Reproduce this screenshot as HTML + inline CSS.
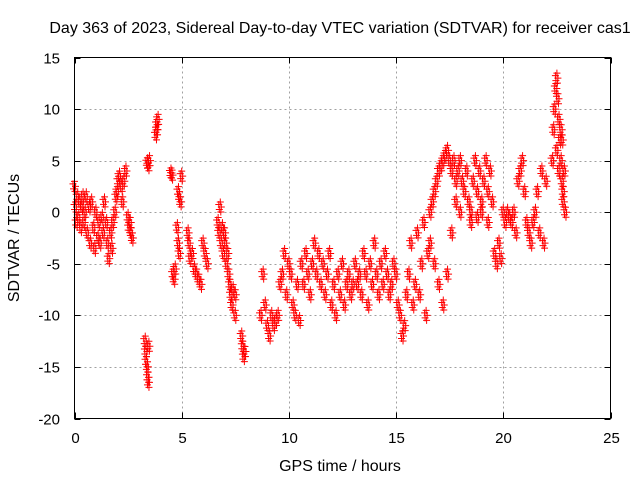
<!DOCTYPE html>
<html><head><meta charset="utf-8"><style>
body{margin:0;background:#fff}
svg{display:block;font-family:"Liberation Sans",sans-serif}
</style></head><body>
<svg id="chart" width="640" height="480" viewBox="0 0 640 480">
<text x="340" y="33" font-size="16" text-anchor="middle">Day 363 of 2023, Sidereal Day-to-day VTEC variation (SDTVAR) for receiver cas1</text>
<g id="grid"></g>
<g id="ticks"></g>
<g id="marks"></g>
<rect x="74.5" y="57.5" width="536" height="361" fill="none" stroke="#000" stroke-width="1"/>
<text x="340" y="471" font-size="16" text-anchor="middle">GPS time / hours</text>
<text transform="translate(19,238) rotate(-90)" font-size="16" text-anchor="middle">SDTVAR / TECUs</text>
</svg>
<script>
const xTicks=[0,5,10,15,20,25];
const yTicks=[-20,-15,-10,-5,0,5,10,15];
const gpsHours=[0,0.05,0.1,0.15,0.2,0.25,0.3,0.35,0.4,0.45,0.5,
0.55,0.6,0.7,0.75,0.8,0.9,0.95,1.0,1.1,1.15,1.2,1.3,1.35,1.4,1.5,
1.55,1.6,1.7,1.75,1.8,1.9,1.95,2.0,2.05,2.1,2.2,2.25,2.3,2.4,
2.5,2.55,2.6,2.65,2.7,
3.3,3.33,3.36,3.4,3.43,3.45,3.47,
3.4,3.45,3.5,
3.8,3.85,3.9,3.85,
4.5,4.55,4.6,4.65,4.7,
4.85,4.9,4.95,5.0,4.8,4.85,4.9,
5.3,5.35,5.4,5.5,5.6,5.7,5.8,5.9,
6.0,6.1,6.2,
6.7,6.75,6.8,6.85,6.9,6.95,7.0,
7.05,7.1,7.15,7.2,7.25,7.3,7.35,7.4,7.5,7.5,
7.8,7.85,7.9,7.95,
8.7,8.8,8.9,9.0,9.1,9.2,9.3,9.4,9.5,
9.6,9.7,9.8,9.9,10.0,10.1,10.2,10.3,10.4,10.5,
10.6,10.7,10.8,10.9,11.0,11.1,11.2,11.3,11.4,11.5,11.6,11.7,11.8,11.9,
12.0,12.1,12.2,12.3,12.4,12.5,12.6,12.7,12.8,12.9,13.0,
13.1,13.2,13.3,13.4,13.5,13.6,13.7,13.8,13.9,14.0,14.1,14.2,14.3,14.4,14.5,14.6,14.7,14.8,14.9,15.0,
15.1,15.2,15.3,15.4,15.5,
15.6,15.7,15.8,15.9,16.0,16.1,16.2,16.3,16.4,16.5,
16.6,16.7,16.8,16.9,17.0,17.1,17.2,17.3,17.4,17.5,17.6,17.7,17.8,17.9,18.0,
16.6,16.8,17.0,17.2,17.4,17.6,17.8,18.0,
18.1,18.2,18.3,18.4,18.5,18.6,18.7,18.8,18.9,19.0,19.1,19.2,19.3,19.4,
18.5,18.8,19.0,19.3,
19.5,19.6,19.7,19.8,19.9,20.0,
20.1,20.2,20.3,20.4,20.5,20.6,20.7,20.8,20.9,21.0,
21.1,21.2,21.3,21.4,21.5,21.6,21.7,21.8,21.9,22.0,
22.3,22.35,22.4,22.45,22.5,22.55,22.6,22.65,22.7,22.75,22.8,
22.7,22.75,22.8,22.85,22.9,22.5,22.6];
const sdtvar=[2.5,0.5,-1,1.5,-0.5,1,-1.5,0.5,1.5,-1,0,
1.5,-2,0.5,-3,1,-1.5,-3.5,0,-2.5,-1,-3,-0.5,-2,1,-1,
-3,-4.5,-2,-3.5,-1,0,1.5,2,3,3.5,2.5,1,3,4,
-0.5,-1.5,-1,-2,-2.5,
-12.5,-13.5,-14.5,-15,-16,-16.5,-13,
4.8,4.5,5,
7.5,8.5,9,8,
3.8,3.6,-6,-6.5,-5.5,
2,1.5,1,3.5,-1.5,-3,-4,
-2,-3,-4.5,-4,-5.5,-6,-6.5,-7,
-3,-4,-5,
-1,-2,0.5,-3,-1.5,-4,-2,
-3,-5,-4,-6,-7,-8,-9,-7.5,-10,-8,
-12,-13,-14,-13.5,
-10,-6,-9,-11,-12,-10,-11,-10.5,-10,
-7,-6,-4,-8,-5,-6,-9,-10,-7,-10.5,
-5,-7,-4,-6,-8,-5,-3,-6,-4,-7,-5,-8,-6,-4,
-9,-7,-10,-6,-8,-5,-9,-7,-6,-8,-7,
-5,-7,-6,-8,-4,-6,-9,-5,-7,-3,-6,-8,-5,-7,-4,-6,-8,-7,-5,-6,
-9,-10,-12,-11,-8,
-6,-3,-9,-7,-2,-8,-5,-1,-10,-4,
0,1,2,3,4,4.5,5,5.5,6,5,4,5,3,4,5,
-3,-5,-7,-9,-6,-2,1,0,
3,2,4,1,0,3,5,2,4,1,3,5,2,4,
-1,-0.5,0,-1,
1,-4,-5,-3,-4.5,0,
-1,0,-0.5,-1,0,-2,3,4,5,2,
-1,-2,-3,-1,0,2,-2,4,-3,3,
5,8,10,12,13,11,9,7,5,3,1,
8,7,2,4,0,6,4];
const NS="http://www.w3.org/2000/svg";
const X0=74.5,X1=610.5,Y0=418.5,Y1=57.5;
function xs(v){return X0+(v-0)/(25-0)*(X1-X0);}
function ys(v){return Y0-(v+20)/(35)*(Y0-Y1);}
const grid=document.getElementById('grid'),ticks=document.getElementById('ticks'),marks=document.getElementById('marks');
function line(p,x1,y1,x2,y2,st,dash){const l=document.createElementNS(NS,'line');l.setAttribute('x1',x1);l.setAttribute('y1',y1);l.setAttribute('x2',x2);l.setAttribute('y2',y2);l.setAttribute('stroke',st);if(dash)l.setAttribute('stroke-dasharray',dash);p.appendChild(l);return l;}
function txt(x,y,s,anchor){const t=document.createElementNS(NS,'text');t.setAttribute('x',x);t.setAttribute('y',y);t.setAttribute('font-size','15');t.setAttribute('text-anchor',anchor);t.textContent=s;ticks.appendChild(t);return t;}
xTicks.forEach(v=>{const x=Math.round(xs(v))+0.5;
 if(v>0&&v<25){const g=line(grid,x,Y0,x,Y1,'#a0a0a0','2,3');
 
 }
 line(ticks,x,Y0,x,Y0-6,'#000');line(ticks,x,Y1,x,Y1+6,'#000');
 const t=txt(x,443,String(v),'middle');
 
 });
yTicks.forEach(v=>{const y=Math.round(ys(v))+0.5;
 if(v>-20&&v<15){const g=line(grid,X0,y,X1,y,'#a0a0a0','2,3');
 
 }
 line(ticks,X0,y,X0+6,y,'#000');line(ticks,X1,y,X1-6,y,'#000');
 const t=txt(60,y+5,String(v),'end');
 
 });
let d='';
gpsHours.forEach((h,i)=>{const x=xs(h),y=ys(sdtvar[i]);
 for(const o of [[0,-5],[-1.5,-2.5],[1,0],[-1,2.5],[0.5,5]]){const xx=x+o[0],yy=y+o[1];d+=`M${xx-3.5},${yy}H${xx+3.5}M${xx},${yy-3.5}V${yy+3.5}`;}});
const p=document.createElementNS(NS,'path');
p.setAttribute('d',d);p.setAttribute('stroke','#ff0000');p.setAttribute('stroke-width','1');p.setAttribute('fill','none');


marks.appendChild(p);
</script>
</body></html>
